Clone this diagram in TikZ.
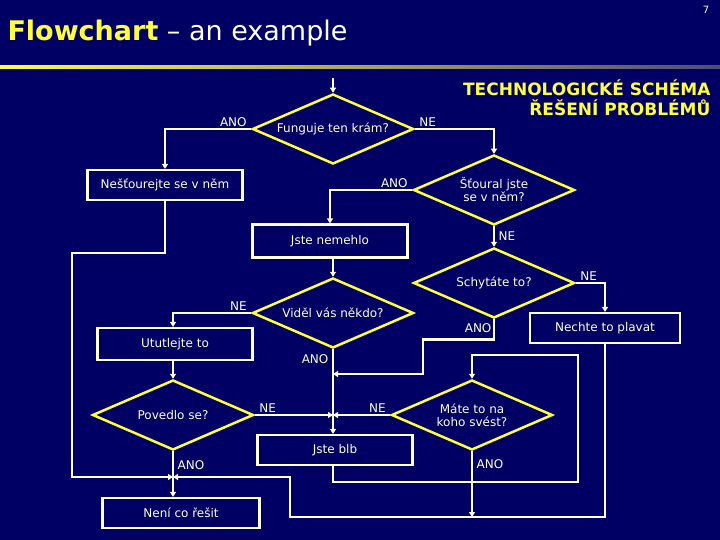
\documentclass[tikz,border=0pt]{standalone}
\usepackage{fontspec}
\setmainfont{DejaVu Sans}
\usetikzlibrary{positioning, shapes, arrows.meta}
\definecolor{navy}{RGB}{0,0,100}
\definecolor{cream}{RGB}{255,255,225}
\definecolor{lemon}{RGB}{255,255,60}

\begin{document}
\begin{tikzpicture}[
        x=1pt, y=-1pt,
        every node/.style={align=center, text=cream, font=\fontsize{12}{13}\selectfont},
        box/.style={rectangle, draw=cream, line width=2.2pt, inner sep=0pt},
        decision/.style={diamond, draw=lemon, line width=2.5pt, inner sep=-2pt, aspect=2.3, minimum width=161, minimum height=70},
        link/.style={draw=cream, line width=2.5pt},
        arrow/.style={link, -{Triangle[width=6pt,length=5pt]}}
    ]
    \fill[navy] (0,0) rectangle (720,540);
    \useasboundingbox (0,0) rectangle (720,540);

    % title
    \node[anchor=west, font=\fontsize{27}{30}\selectfont, text=white] (title) at (4,33) {\textcolor{lemon}{\textbf{Flowchart}} -- an example};
    \node[font=\fontsize{10}{12}\selectfont] (page) at (706,10) {7};
    \shade[left color=lemon, right color=gray!60!navy] (0,66) rectangle (720,69);
    \node[anchor=north east, text=lemon, font=\bfseries\fontsize{17}{20}\selectfont, align=right] (head) at (714,76) {TECHNOLOGICKÉ SCHÉMA\\ŘEŠENÍ PROBLÉMŮ};

    % nodes
    \coordinate (in) at (333,78);
    \node[decision] (works) at (333,129) {Funguje ten krám?};
    \node[box, minimum width=155, minimum height=30] (leave) at (165,185) {Nešťourejte se v něm};
    \node[decision] (poked) at (494,190) {Šťoural jste\\se v něm?};
    \node[box, minimum width=155, minimum height=33] (clumsy) at (330,241) {Jste nemehlo};
    \node[decision] (caught) at (494,283) {Schytáte to?};
    \node[box, minimum width=150, minimum height=30] (float) at (605,328) {Nechte to plavat};
    \node[decision] (seen) at (333,313) {Viděl vás někdo?};
    \node[box, minimum width=155, minimum height=32] (hide) at (175,344) {Ututlejte to};
    \node[decision] (ok) at (173,415) {Povedlo se?};
    \node[decision] (blame) at (472,415) {Máte to na\\koho svést?};
    \node[box, minimum width=155, minimum height=30] (dumb) at (335,450) {Jste blb};
    \node[box, minimum width=157, minimum height=30] (none) at (181,513) {Není co řešit};

    % junctions
    \coordinate (j1) at (333,374);
    \coordinate (j2) at (333,415);
    \coordinate (j3) at (173,477);
    \coordinate (j4) at (472,517);

    % connectors
    \draw[arrow] (in) -- (works.north);
    \draw[arrow] (works.west) node[above left=-2pt and 0pt] {ANO} -| (leave.north);
    \draw[arrow] (works.east) node[above right=-2pt and 0pt] {NE} -| (poked.north);
    \draw[arrow] (poked.west) node[above left=-2pt and 0pt] {ANO} -| (clumsy.north);
    \draw[arrow] (poked.south) -- node[right] {NE} (caught.north);
    \draw[arrow] (caught.east) node[above right=-2pt and 0pt] {NE} -| (float.north);
    \draw[arrow] (clumsy.south -| seen.north) -- (seen.north);
    \draw[arrow] (seen.west) node[above left=-2pt and 0pt] {NE} -| (hide.north -| 173,0);
    \draw[arrow] (hide.south -| 173,0) -- (ok.north);
    \draw[arrow] (seen.south) -- node[pos=0.12, left] {ANO} (dumb.north -| seen.south);
    \draw[arrow] (caught.south) node[below left=0pt and -2pt] {ANO} -- ++(0,20) -| (423,374) -- (j1);
    \draw[arrow] (ok.east) node[above right=-2pt and 0pt] {NE} -- (j2);
    \draw[arrow] (blame.west) node[above left=-2pt and 0pt] {NE} -- (j2);
    \draw[arrow] (ok.south) -- node[pos=0.3, right] {ANO} (none.north -| ok.south);
    \draw[arrow] (leave.south) -- ++(0,52) -| (72,477) -- (j3);
    \draw[arrow] (float.south) |- (290,517) |- (j3);
    \draw[arrow] (dumb.south -| seen.south) |- (578,482) |- (472,355) -- (blame.north);
    \draw[arrow] (blame.south) -- node[pos=0.2, right] {ANO} (j4);
\end{tikzpicture}
\end{document}
